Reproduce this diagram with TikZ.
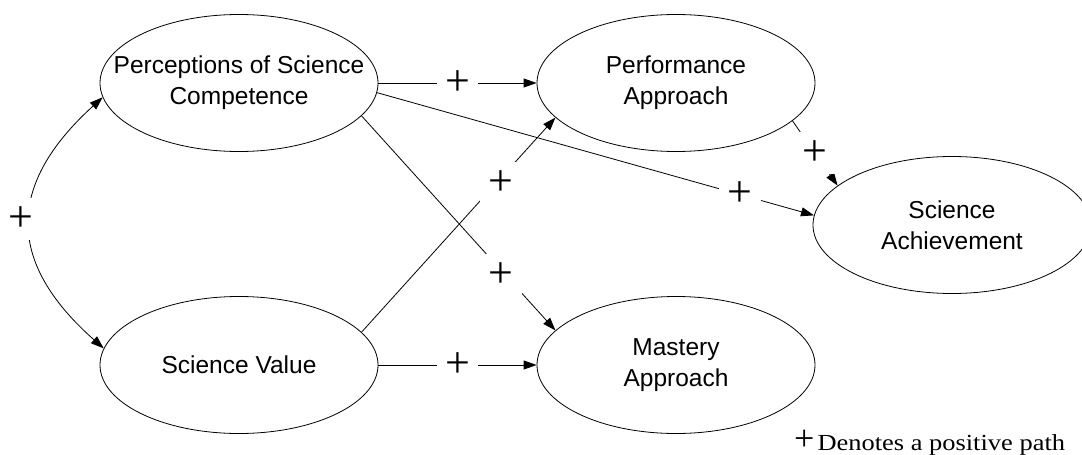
\documentclass[tikz,border=0pt]{standalone}
\usepackage{fontspec}
\setmainfont{Liberation Sans}
\newfontfamily\serifpl{Liberation Serif}
\newfontfamily\legendfont{Liberation Serif}[FakeStretch=1.15]
\usetikzlibrary{shapes.geometric,arrows.meta}
\tikzset{
  construct/.style={draw, ellipse, line width=0.8pt, minimum width=278pt, minimum height=137pt, inner sep=0pt},
  lbl/.style={align=center, inner sep=0pt, font=\fontsize{24.5}{31}\selectfont},
  conn/.style={line width=0.8pt, -{Triangle[length=13pt,width=9pt]}},
  dconn/.style={line width=0.8pt, {Triangle[length=13pt,width=9pt]}-{Triangle[length=13pt,width=9pt]}},
  plus/.style={fill=white, inner sep=8.5pt, font=\serifpl\fontsize{44}{44}\selectfont}
}
\begin{document}
\begin{tikzpicture}[x=1pt,y=-1pt]
\useasboundingbox (0,0) rectangle (1082,455);
\fill[white] (0,0) rectangle (1082,455);
% constructs
\node[construct] (psc) at (239,83) {};
\node[lbl] (psct) at (psc.center) {Perceptions of Science\\Competence};
\node[construct] (sv) at (239,365) {};
\node[lbl] (svt) at (sv.center) {Science Value};
\node[construct] (pa) at (676,83) {};
\node[lbl] (pat) at (pa.center) {Performance\\Approach};
\node[construct] (ma) at (676,365) {};
\node[lbl] (mat) at (ma.center) {Mastery\\Approach};
\node[construct] (sa) at (952,225) {};
\node[lbl] (sat) at (sa.center) {Science\\Achievement};
% paths
\draw[conn] (psc.0) -- node[plus] {+} (pa.180);
\draw[conn] (sv.0) -- node[plus] {+} (ma.180);
\draw[conn] (psc.-4) -- node[plus, pos=0.83] {+} (sa.176);
\draw[conn] (psc.-15.5) -- node[plus, pos=0.72, yshift=-5pt] {+} (ma.164);
\draw[conn] (sv.15) -- node[plus, pos=0.72, yshift=-5pt] {+} (pa.196);
\draw[conn] (pa.-18.7) -- node[plus, pos=0.5] {+} (sa.161);
\draw[dconn] (psc.186) .. controls (6,185) and (6,262) .. (sv.173)
  node[plus, pos=0.5, xshift=-9pt, yshift=4pt] {+};
% legend
\node[anchor=base west, inner sep=0pt] (legend) at (794,450)
  {{\serifpl\fontsize{36}{36}\selectfont +}\kern3pt{\legendfont\fontsize{23}{28}\selectfont Denotes a positive path}};
\end{tikzpicture}
\end{document}
